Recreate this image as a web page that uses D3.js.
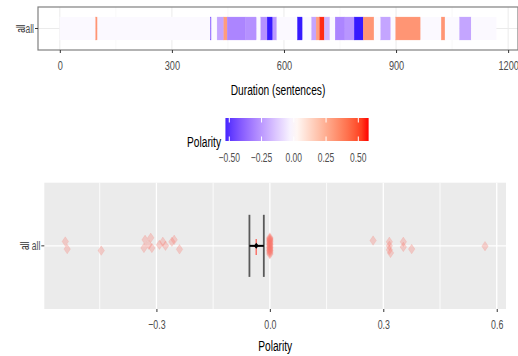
<!DOCTYPE html>
<html>
<head>
<meta charset="utf-8">
<script src="https://cdn.jsdelivr.net/npm/d3@7/dist/d3.min.js"></script>
<style>
  body { margin: 0; background: #fff; }
  text { font-family: "Liberation Sans", Arial, sans-serif; }
</style>
</head>
<body>
<div id="chart"></div>
<script>
// ---- data ----
// top panel: polarity of consecutive stretches of the text (in sentences)
const segStart = [0, 96, 101, 403, 406, 421, 439, 448, 496, 527, 538, 555, 570, 581, 636, 650, 674, 686, 696, 708,
  723, 737, 763, 788, 812, 841, 859, 886, 899, 966, 1021, 1031, 1070, 1101];
const segEnd = [96, 101, 403, 406, 421, 439, 448, 496, 527, 538, 555, 570, 581, 636, 650, 674, 686, 696, 708, 723,
  737, 763, 788, 812, 841, 859, 886, 899, 966, 1021, 1031, 1070, 1101, 1168];
const segPolarity = [-0.015, 0.32, -0.015, -0.42, -0.015, -0.22, 0.3, -0.3, -0.27, -0.015, -0.27, -0.55, -0.25, -0.015,
  -0.55, -0.015, -0.22, 0.3, 0.55, -0.18, -0.015, -0.3, -0.26, -0.55, 0.32, -0.015, -0.22, -0.015, 0.32, -0.015,
  0.32, -0.015, -0.22, -0.015];
const durationTicks = [0, 300, 600, 900, 1200];

// legend
const legendTicks = [-0.5, -0.25, 0, 0.25, 0.5];
const legendLimits = [-0.53, 0.58];

// bottom panel: sentence polarity points (value and vertical jitter)
const pointPolarity = [-0.541, -0.536, -0.446, -0.333, -0.330, -0.320, -0.315, -0.312, -0.292, -0.283, -0.276,
  -0.259, -0.253, -0.239,
  0, 0, 0, 0, 0, 0, 0, 0, 0, 0, 0, 0, 0, 0, 0, 0, 0, 0, 0, 0, 0, 0,
  0.273, 0.316, 0.316, 0.316, 0.319, 0.353, 0.353, 0.375, 0.569];
const pointJitter = [0.041, -0.031, -0.045, -0.02, 0.057, 0.01, 0.076, -0.02, 0.01, 0.038, 0, 0.038, 0.057, -0.033,
  0.08, 0.06, 0.04, 0.02, 0, -0.02, -0.04, -0.06, -0.08, 0.05, -0.03, 0.01,
  0.07, 0.03, -0.01, -0.05, -0.07, 0.045, 0.015, -0.015, -0.045, 0.065,
  0.05, 0.038, 0, -0.038, -0.067, 0.038, -0.01, -0.031, -0.003];
const meanPolarity = -0.036;
const meanLow = -0.054, meanHigh = -0.016;
const polarityTicks = [-0.3, 0, 0.3, 0.6];
const polarityMinor = [-0.45, -0.15, 0.15, 0.45];
const groupName = 'all';

// ---- drawing ----
const W = 518, H = 356;
const SQ = 0.68; // horizontal squeeze of the text in the picture
const svg = d3.select('#chart').append('svg').attr('width', W).attr('height', H);

const color = d3.scaleLinear().domain([-0.58, 0, 0.58])
  .range(['#0000ff', '#ffffff', '#ff0000']).interpolate(d3.interpolateLab);

function label(g, txt, x, y, size, anchor, fill, rot) {
  return g.append('text')
    .attr('transform', `translate(${x},${y})` + (rot ? ` rotate(${rot})` : '') + ` scale(${SQ},1)`)
    .attr('text-anchor', anchor)
    .attr('font-size', size)
    .attr('fill', fill)
    .text(txt);
}

// ---- top panel ----
const topP = { l: 38, r: 518, t: 7, b: 50 };
const xd = d3.scaleLinear().domain([-58.4, 1226.4]).range([topP.l, topP.r]);
const yt = d3.scaleLinear().domain([0.4, 1.6]).range([topP.b, topP.t]);
const gTop = svg.append('g');

gTop.append('rect').attr('x', topP.l).attr('y', topP.t).attr('width', topP.r - topP.l).attr('height', topP.b - topP.t)
  .attr('fill', '#fff');
const minorD = [150, 450, 750, 1050];
gTop.selectAll('.mn').data(minorD).join('line')
  .attr('x1', d => xd(d)).attr('x2', d => xd(d)).attr('y1', topP.t).attr('y2', topP.b)
  .attr('stroke', '#f3f3f3').attr('stroke-width', 0.6);
gTop.selectAll('.mj').data(durationTicks).join('line')
  .attr('x1', d => xd(d)).attr('x2', d => xd(d)).attr('y1', topP.t).attr('y2', topP.b)
  .attr('stroke', '#ebebeb').attr('stroke-width', 1);
gTop.append('line').attr('x1', topP.l).attr('x2', topP.r).attr('y1', yt(1)).attr('y2', yt(1))
  .attr('stroke', '#ebebeb').attr('stroke-width', 1);

gTop.selectAll('.seg').data(segStart).join('rect')
  .attr('x', (d, i) => xd(d))
  .attr('width', (d, i) => xd(segEnd[i]) - xd(d))
  .attr('y', yt(1.32)).attr('height', yt(0.68) - yt(1.32))
  .attr('fill', (d, i) => color(segPolarity[i]))
  .attr('stroke', (d, i) => color(segPolarity[i])).attr('stroke-width', 0.3);

gTop.append('rect').attr('x', topP.l).attr('y', topP.t).attr('width', topP.r - topP.l).attr('height', topP.b - topP.t)
  .attr('fill', 'none').attr('stroke', '#808080').attr('stroke-width', 1.2);

const axTop = gTop.append('g').attr('transform', `translate(0,${topP.b})`)
  .call(d3.axisBottom(xd).tickValues(durationTicks).tickSize(3).tickPadding(7).tickFormat(d3.format('d')));
axTop.select('.domain').remove();
axTop.selectAll('line').attr('stroke', '#333');
axTop.selectAll('text').attr('font-size', 13.5).attr('fill', '#4d4d4d')
  .attr('font-family', '"Liberation Sans", Arial, sans-serif')
  .attr('transform', `scale(${SQ},1)`).attr('dy', '0.72em');

gTop.append('line').attr('x1', topP.l - 3).attr('x2', topP.l).attr('y1', yt(1)).attr('y2', yt(1)).attr('stroke', '#333');
label(gTop, groupName, topP.l - 4, yt(1) + 4.5, 12.5, 'end', '#4d4d4d');
label(gTop, groupName, 25, yt(1), 12.5, 'middle', '#333', -90);
label(gTop, 'Duration (sentences)', (topP.l + topP.r) / 2, 94.5, 15, 'middle', '#000');

// ---- legend ----
const lx = d3.scaleLinear().domain([-0.5, 0.5]).range([229.3, 358.3]);
const leg = { t: 118, b: 141 };
const defs = svg.append('defs');
const grad = defs.append('linearGradient').attr('id', 'pg').attr('x1', '0%').attr('x2', '100%');
d3.range(0, 1.0001, 0.05).forEach(t => {
  const v = legendLimits[0] + t * (legendLimits[1] - legendLimits[0]);
  grad.append('stop').attr('offset', (t * 100) + '%').attr('stop-color', color(v));
});
svg.append('rect').attr('x', lx(legendLimits[0])).attr('y', leg.t)
  .attr('width', lx(legendLimits[1]) - lx(legendLimits[0])).attr('height', leg.b - leg.t)
  .attr('fill', 'url(#pg)');
legendTicks.forEach(v => {
  svg.append('line').attr('x1', lx(v)).attr('x2', lx(v)).attr('y1', leg.t).attr('y2', leg.t + 4.5)
    .attr('stroke', '#fff').attr('stroke-width', 1);
  svg.append('line').attr('x1', lx(v)).attr('x2', lx(v)).attr('y1', leg.b - 4.5).attr('y2', leg.b)
    .attr('stroke', '#fff').attr('stroke-width', 1);
  label(svg, d3.format('.2f')(v), lx(v), 161.5, 12.5, 'middle', '#4d4d4d');
});
label(svg, 'Polarity', 221, 147, 15, 'end', '#000');

// ---- bottom panel ----
const bot = { l: 44.3, r: 506, t: 182.7, b: 309 };
const xp = d3.scaleLinear().domain([-0.5965, 0.6245]).range([bot.l, bot.r]);
const yb = d3.scaleLinear().domain([0.4, 1.6]).range([bot.b, bot.t]);
const gBot = svg.append('g');

gBot.append('rect').attr('x', bot.l).attr('y', bot.t).attr('width', bot.r - bot.l).attr('height', bot.b - bot.t)
  .attr('fill', '#ebebeb');
gBot.selectAll('.mn').data(polarityMinor).join('line')
  .attr('x1', d => xp(d)).attr('x2', d => xp(d)).attr('y1', bot.t).attr('y2', bot.b)
  .attr('stroke', '#fff').attr('stroke-width', 0.8);
gBot.selectAll('.mj').data(polarityTicks).join('line')
  .attr('x1', d => xp(d)).attr('x2', d => xp(d)).attr('y1', bot.t).attr('y2', bot.b)
  .attr('stroke', '#fff').attr('stroke-width', 1.3);
gBot.append('line').attr('x1', bot.l).attr('x2', bot.r).attr('y1', yb(1)).attr('y2', yb(1))
  .attr('stroke', '#fff').attr('stroke-width', 1.3);

const diamond = (cx, cy, w, h) => `M${cx},${cy - h / 2}L${cx + w / 2},${cy}L${cx},${cy + h / 2}L${cx - w / 2},${cy}Z`;
gBot.selectAll('.pt').data(pointPolarity).join('path')
  .attr('d', (d, i) => diamond(xp(d), yb(1 + pointJitter[i]), 6.5, 9.5))
  .attr('fill', '#f8766d').attr('fill-opacity', 0.3)
  .attr('stroke', '#f8766d').attr('stroke-opacity', 0.25).attr('stroke-width', 0.6);

// mean with interval
[meanLow, meanHigh].forEach(v => {
  gBot.append('line').attr('x1', xp(v)).attr('x2', xp(v)).attr('y1', yb(1.295)).attr('y2', yb(0.705))
    .attr('stroke', '#595959').attr('stroke-width', 1.8);
});
gBot.append('line').attr('x1', xp(meanPolarity)).attr('x2', xp(meanPolarity))
  .attr('y1', yb(1.066)).attr('y2', yb(0.914)).attr('stroke', '#f8766d').attr('stroke-width', 1.5);
gBot.append('line').attr('x1', xp(meanPolarity) - 4).attr('x2', xp(meanPolarity) + 4)
  .attr('y1', yb(1)).attr('y2', yb(1)).attr('stroke', '#f8766d').attr('stroke-width', 1.5);
gBot.append('line').attr('x1', xp(meanLow)).attr('x2', xp(meanHigh)).attr('y1', yb(1)).attr('y2', yb(1))
  .attr('stroke', '#000').attr('stroke-width', 2);
gBot.append('path').attr('d', diamond(xp(meanPolarity), yb(1), 5, 6)).attr('fill', '#000');

const axBot = gBot.append('g').attr('transform', `translate(0,${bot.b})`)
  .call(d3.axisBottom(xp).tickValues(polarityTicks).tickSize(3).tickPadding(8).tickFormat(d3.format('.1f')));
axBot.select('.domain').remove();
axBot.selectAll('line').attr('stroke', '#333');
axBot.selectAll('text').attr('font-size', 13).attr('fill', '#4d4d4d')
  .attr('font-family', '"Liberation Sans", Arial, sans-serif')
  .attr('transform', `scale(${SQ},1)`).attr('dy', '0.72em');

gBot.append('line').attr('x1', bot.l - 3).attr('x2', bot.l).attr('y1', yb(1)).attr('y2', yb(1)).attr('stroke', '#333');
label(gBot, groupName, bot.l - 4, yb(1) + 4.5, 12.5, 'end', '#4d4d4d');
label(gBot, groupName, 29, yb(1), 12.5, 'middle', '#333', -90);
label(gBot, 'Polarity', (bot.l + bot.r) / 2, 351, 15, 'middle', '#000');
</script>
</body>
</html>
